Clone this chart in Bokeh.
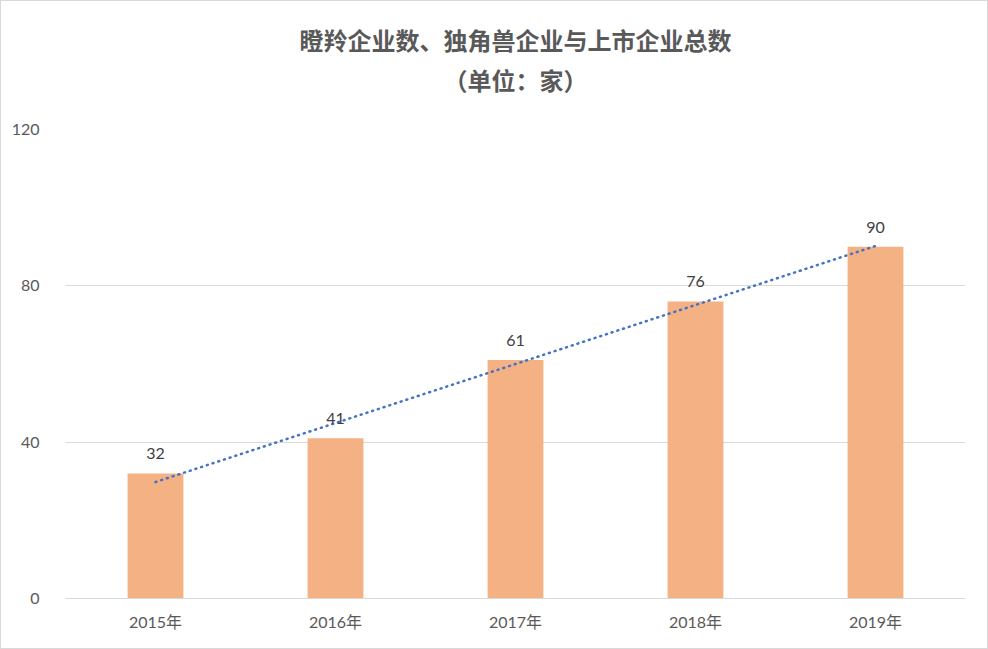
from bokeh.plotting import figure
from bokeh.models import ColumnDataSource, FixedTicker, Range1d, FactorRange, LabelSet, Title
from bokeh.core.properties import value
from bokeh.embed import file_html
from bokeh.resources import INLINE
import numpy as np

categories = ["2015年", "2016年", "2017年", "2018年", "2019年"]
values = [32, 41, 61, 76, 90]
y_ticks = [0, 40, 80, 120]
title_lines = ["瞪羚企业数、独角兽企业与上市企业总数", "（单位：家）"]

# linear trend line (least squares on category index)
idx = np.arange(len(values))
slope, intercept = np.polyfit(idx, values, 1)
trend = [float(intercept + slope * i) for i in idx]

FONT = "Lato, 'Noto Sans CJK SC', sans-serif"
CJK = "'Noto Sans CJK SC', sans-serif"

src = ColumnDataSource(dict(cat=categories, val=values, lab=[str(v) for v in values], trend=trend))

W, H = 988, 649
p = figure(width=W, height=H, x_range=FactorRange(*categories, range_padding=0),
           y_range=Range1d(0, 120), output_backend="svg", toolbar_location=None,
           min_border_left=64, min_border_right=24, min_border_top=128, min_border_bottom=52)

p.title.text = title_lines[0]
p.title.align = "center"
p.title.text_font = CJK
p.title.text_font_size = "24px"
p.title.text_color = "#595959"
p.title.text_font_style = "bold"
p.title.standoff = -60
p.add_layout(Title(text=title_lines[1], align="center", text_font=CJK,
                   text_font_size="24px", text_color="#595959", text_font_style="bold",
                   standoff=66), "above")

p.vbar(x="cat", top="val", width=0.31, source=src, color="#F4B183", line_color=None)
p.line(x="cat", y="trend", source=src, line_color="#4472C4", line_width=2.5,
       line_dash="1 5", line_cap="round")

labels = LabelSet(x="cat", y="val", text="lab", source=src, text_align="center",
                  text_baseline="bottom", y_offset=14, text_font=value("Lato"),
                  text_font_size=value("16px"), text_color="#404040")
p.add_layout(labels)

p.yaxis.ticker = FixedTicker(ticks=y_ticks)
p.yaxis.axis_line_color = None
p.yaxis.major_tick_line_color = None
p.yaxis.minor_tick_line_color = None
p.yaxis.major_label_text_font = FONT
p.yaxis.major_label_text_font_size = "16px"
p.yaxis.major_label_text_color = "#595959"
p.yaxis.major_label_standoff = 20

p.xaxis.axis_line_color = "#D9D9D9"
p.xaxis.major_tick_line_color = None
p.xaxis.minor_tick_line_color = None
p.xaxis.major_label_text_font = FONT
p.xaxis.major_label_text_font_size = "16px"
p.xaxis.major_label_text_color = "#595959"
p.xaxis.major_label_standoff = 7

p.xgrid.grid_line_color = None
p.ygrid.grid_line_color = "#D9D9D9"
p.ygrid.ticker = FixedTicker(ticks=y_ticks)
p.outline_line_color = None
p.background_fill_color = "white"
p.border_fill_color = "white"
p.styles = {"border": "1px solid #D9D9D9", "box-sizing": "border-box"}

open("out.html", "w").write(file_html(p, INLINE))
